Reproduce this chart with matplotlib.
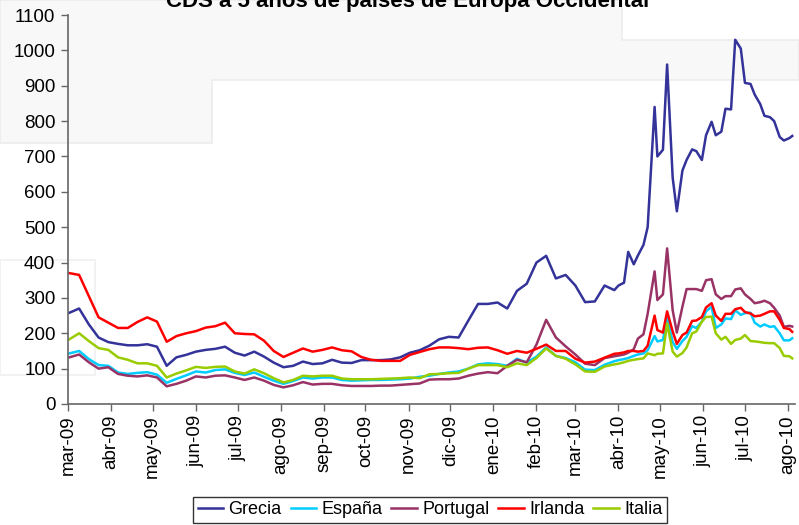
import matplotlib
matplotlib.use("Agg")
import matplotlib.pyplot as plt
from matplotlib.patches import Polygon, Rectangle
import pandas as pd

# ---------------- data ----------------
weekly_start = "2009-03-02"
weekly_count = 57
late_dates = ["2010-04-01", "2010-04-05", "2010-04-08", "2010-04-12", "2010-04-15",
              "2010-04-19", "2010-04-22", "2010-04-27", "2010-04-29", "2010-05-03",
              "2010-05-06", "2010-05-10", "2010-05-13", "2010-05-17", "2010-05-20",
              "2010-05-24", "2010-05-27", "2010-05-31", "2010-06-03", "2010-06-07",
              "2010-06-10", "2010-06-14", "2010-06-17", "2010-06-21", "2010-06-24",
              "2010-06-28", "2010-07-01", "2010-07-05", "2010-07-08", "2010-07-12",
              "2010-07-15", "2010-07-19", "2010-07-22", "2010-07-26", "2010-07-29",
              "2010-08-02", "2010-08-04"]

grecia = [258, 270, 225, 188, 175, 170, 166, 166, 169, 162,
          108, 132, 139, 148, 153, 156, 162, 145, 137, 148,
          134, 117, 104, 108, 120, 113, 115, 125, 117, 116,
          124, 124, 124, 126, 132, 145, 152, 165, 183, 190,
          188, 236, 283, 283, 287, 270, 320, 340, 400, 419,
          355, 365, 335, 288, 290, 335, 322,
          335, 343, 430, 395, 420, 450, 500, 840, 700, 719,
          960, 640, 545, 660, 690, 720, 715, 690, 760, 798,
          760, 770, 835, 833, 1030, 1005, 908, 905, 875, 848,
          815, 811, 800, 755, 745, 752, 758]

espana = [143, 150, 127, 110, 108, 89, 85, 88, 90, 83,
          60, 71, 81, 92, 89, 96, 98, 88, 82, 89,
          77, 66, 57, 65, 75, 72, 75, 75, 68, 66,
          67, 68, 68, 69, 70, 72, 77, 80, 85, 89,
          92, 100, 112, 115, 113, 108, 128, 117, 134, 160,
          136, 130, 118, 97, 96, 111, 121,
          124, 127, 130, 136, 140, 143, 152, 192, 177, 181,
          245, 175, 156, 178, 190, 220, 215, 233, 262, 275,
          215, 225, 242, 240, 265, 252, 257, 258, 230, 219,
          225, 218, 220, 200, 180, 180, 186]

portugal = [132, 140, 118, 100, 104, 85, 80, 78, 81, 75,
            50, 57, 66, 78, 75, 80, 81, 75, 68, 75,
            66, 54, 47, 53, 62, 55, 57, 57, 53, 51,
            51, 51, 52, 52, 54, 56, 58, 69, 70, 70,
            72, 80, 86, 90, 87, 108, 125, 118, 168, 238,
            188, 163, 140, 114, 110, 130, 135,
            137, 140, 145, 155, 185, 197, 255, 375, 294, 310,
            440, 265, 202, 275, 325, 325, 325, 320, 350, 353,
            310, 297, 305, 305, 324, 327, 310, 297, 285, 288,
            292, 285, 272, 250, 218, 221, 219]

irlanda = [370, 365, 305, 245, 230, 215, 215, 232, 245, 233,
           176, 192, 200, 206, 216, 220, 230, 200, 198, 197,
           179, 150, 133, 145, 157, 148, 153, 160, 152, 149,
           133, 125, 122, 122, 122, 139, 147, 155, 160, 160,
           158, 155, 159, 160, 152, 142, 150, 145, 156, 168,
           150, 150, 128, 117, 120, 131, 142,
           143, 146, 150, 150, 148, 150, 165, 250, 209, 202,
           262, 205, 170, 195, 202, 235, 236, 246, 273, 285,
           250, 235, 255, 255, 268, 272, 260, 256, 248, 250,
           255, 262, 262, 238, 215, 212, 204]

italia = [183, 200, 178, 158, 153, 132, 125, 115, 115, 108,
          75, 86, 95, 105, 102, 105, 106, 92, 86, 98,
          87, 73, 61, 68, 80, 78, 80, 80, 72, 70,
          70, 70, 71, 72, 73, 75, 73, 84, 85, 87,
          88, 100, 110, 110, 110, 104, 115, 110, 130, 157,
          136, 128, 112, 92, 91, 106, 112,
          114, 118, 122, 125, 127, 129, 143, 138, 142, 143,
          228, 148, 134, 144, 160, 200, 205, 233, 246, 247,
          200, 182, 190, 170, 181, 185, 195, 178, 177, 175,
          173, 172, 172, 158, 136, 135, 129]

series_names = ["Grecia", "España", "Portugal", "Irlanda", "Italia"]
series_colors = ["#333399", "#00CCFF", "#993366", "#FF0000", "#99CC00"]

month_ticks = pd.date_range("2009-03-01", "2010-08-01", freq="MS")
month_labels = ["mar-09", "abr-09", "may-09", "jun-09", "jul-09", "ago-09", "sep-09",
                "oct-09", "nov-09", "dic-09", "ene-10", "feb-10", "mar-10", "abr-10",
                "may-10", "jun-10", "jul-10", "ago-10"]
title = "CDS a 5 años de países de Europa Occidental"

# --------------- plotting ---------------
plt.rcParams["font.family"] = ["Liberation Sans", "DejaVu Sans"]

dates = list(pd.date_range(weekly_start, periods=weekly_count, freq="7D")) + \
    list(pd.to_datetime(late_dates))

fig = plt.figure(figsize=(7.99, 5.25), dpi=100, facecolor="white")

# faint background watermark shapes (behind the plot)
W, H = 799, 525
def fx(x): return x / W
def fy(y): return 1 - y / H
bg = Polygon([(fx(0), fy(0)), (fx(622), fy(0)), (fx(622), fy(40)), (fx(799), fy(40)),
              (fx(799), fy(80)), (fx(212), fy(80)), (fx(212), fy(143)), (fx(0), fy(143))],
             closed=True, transform=fig.transFigure, facecolor="#f8f8f8",
             edgecolor="#ececec", lw=1.2, zorder=-10)
fig.patches.append(bg)
box2 = Rectangle((fx(0), fy(375)), fx(95), 115 / H, transform=fig.transFigure,
                 facecolor="none", edgecolor="#f0f0f0", lw=1.2, zorder=-10)
fig.patches.append(box2)

ax = fig.add_axes([68 / W, 1 - 404 / H, 727 / W, 389 / H])
ax.set_zorder(5)
ax.patch.set_alpha(0)

for name, vals, col in zip(series_names, [grecia, espana, portugal, irlanda, italia],
                           series_colors):
    ax.plot(dates, vals, color=col, lw=1.8, label=name, solid_joinstyle="round")

ax.set_ylim(0, 1100)
ax.set_yticks(range(0, 1101, 100))
ax.set_xlim(pd.Timestamp("2009-03-01"), pd.Timestamp("2010-08-06"))
ax.set_xticks(month_ticks)
ax.set_xticklabels(month_labels, rotation=90)

for side in ["top", "right"]:
    ax.spines[side].set_visible(False)
for side in ["left", "bottom"]:
    ax.spines[side].set_color("#666666")
    ax.spines[side].set_linewidth(1.2)
ax.tick_params(axis="both", direction="out", length=5, width=1, color="#666666",
               labelsize=13.5, labelcolor="black")
ax.tick_params(axis="x", pad=3)
ax.tick_params(axis="y", pad=4)

fig.text(0.51, 1 - 7.5 / H, title, ha="center", va="baseline", fontsize=16,
         fontweight="bold", zorder=6)

leg = fig.legend(loc="center", bbox_to_anchor=(430 / W, 1 - 510 / H), ncol=5,
                 frameon=True, fontsize=13, handlelength=1.4, handletextpad=0.3,
                 columnspacing=0.5, borderpad=0.25, fancybox=False)
leg.get_frame().set_edgecolor("black")
leg.get_frame().set_linewidth(1.0)

fig.savefig("out.png", dpi=100, facecolor="white")
